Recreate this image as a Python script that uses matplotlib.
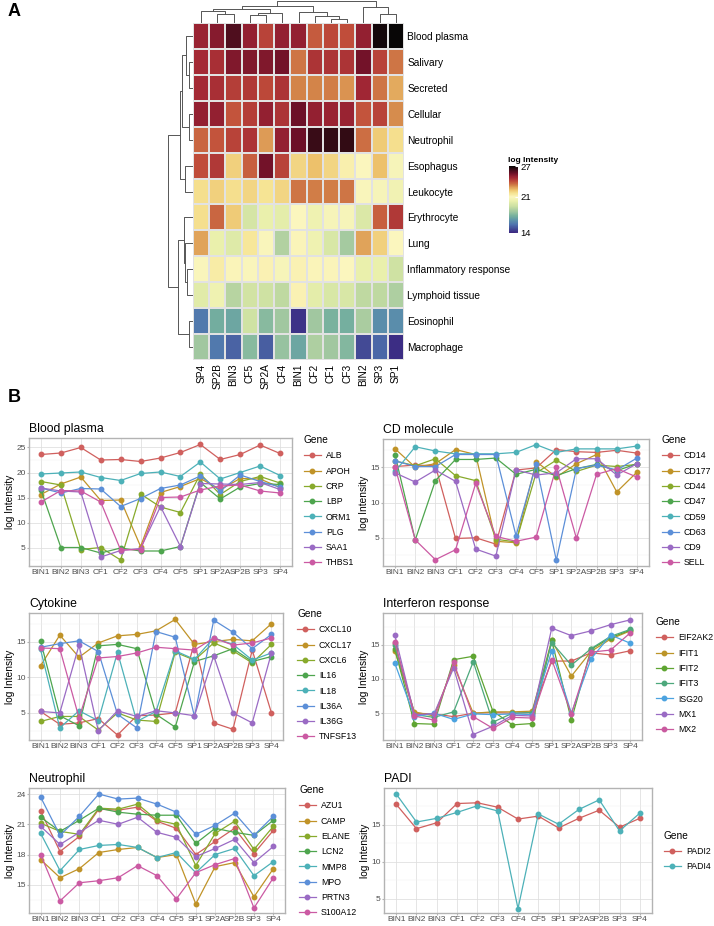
import numpy as np
import matplotlib.pyplot as plt
from matplotlib.colors import LinearSegmentedColormap

plt.rcParams['font.family'] = ['Liberation Sans', 'DejaVu Sans']

W, H = 714, 926

# ------------------------------------------------------------
# A. heatmap data
# ------------------------------------------------------------
hm_cols = ['SP4', 'SP2B', 'BIN3', 'CF5', 'SP2A', 'CF4', 'BIN1', 'CF2', 'CF1', 'CF3', 'BIN2', 'SP3', 'SP1']
hm_rows = ['Blood plasma', 'Salivary', 'Secreted', 'Cellular', 'Neutrophil', 'Esophagus', 'Leukocyte',
           'Erythrocyte', 'Lung', 'Inflammatory response', 'Lymphoid tissue', 'Eosinophil', 'Macrophage']
hm_values = np.array([
    [24.9, 25.2, 26.0, 25.0, 24.2, 25.0, 25.0, 23.8, 24.1, 24.0, 25.0, 26.8, 27.0],
    [24.7, 24.6, 25.3, 25.3, 25.3, 25.5, 23.4, 24.5, 24.5, 24.5, 25.5, 24.2, 23.4],
    [24.7, 24.6, 24.3, 24.4, 24.1, 24.5, 23.2, 23.2, 23.3, 23.0, 24.8, 23.4, 22.7],
    [25.0, 25.0, 23.9, 24.3, 25.0, 24.5, 25.6, 25.0, 24.9, 24.9, 23.9, 24.2, 23.1],
    [23.6, 23.9, 24.2, 24.5, 22.9, 25.0, 25.6, 26.3, 26.4, 26.4, 23.5, 22.2, 21.8],
    [24.0, 24.4, 22.1, 23.7, 25.5, 24.2, 22.0, 22.4, 22.0, 21.3, 21.0, 22.4, 20.8],
    [21.8, 22.1, 21.8, 22.0, 21.7, 22.0, 23.4, 23.3, 23.3, 23.4, 20.9, 20.8, 20.5],
    [21.8, 23.6, 22.2, 19.5, 20.2, 20.0, 21.0, 20.4, 20.8, 20.8, 19.7, 23.7, 24.4],
    [22.8, 20.2, 19.8, 21.6, 20.9, 18.6, 21.1, 20.4, 19.6, 18.3, 22.8, 22.1, 21.0],
    [20.9, 21.4, 21.1, 20.9, 21.2, 20.8, 21.2, 21.1, 21.1, 21.0, 20.2, 20.2, 19.3],
    [19.9, 20.4, 18.7, 19.4, 19.3, 18.9, 21.2, 20.0, 19.6, 19.6, 18.9, 18.9, 18.5],
    [15.8, 17.2, 17.0, 19.3, 17.7, 18.2, 14.3, 18.2, 17.4, 17.3, 18.4, 16.3, 16.3],
    [18.2, 15.8, 15.3, 17.7, 15.2, 18.0, 17.0, 18.5, 18.2, 17.6, 14.8, 15.4, 14.2],
])

# dendrogram merges: (left id, right id, height); ids >= n are earlier merges
col_merges = [(1, 2, 27), (0, 13, 37), (3, 4, 24), (15, 5, 29), (14, 16, 42),
              (8, 9, 12), (7, 18, 22), (6, 19, 34), (17, 20, 53),
              (11, 12, 26), (10, 22, 50), (21, 23, 68)]
row_merges = [(1, 2, 10), (0, 13, 20), (3, 4, 12), (14, 15, 30), (5, 6, 22), (16, 17, 35),
              (9, 10, 18), (8, 19, 23), (7, 20, 25), (11, 12, 12), (21, 22, 42), (18, 23, 70)]

# ------------------------------------------------------------
# B. line panel data
# ------------------------------------------------------------
samples = ['BIN1', 'BIN2', 'BIN3', 'CF1', 'CF2', 'CF3', 'CF4', 'CF5', 'SP1', 'SP2A', 'SP2B', 'SP3', 'SP4']

bp_genes = ['ALB', 'APOH', 'CRP', 'LBP', 'ORM1', 'PLG', 'SAA1', 'THBS1']
bp_values = [
    [23.6, 23.9, 25.0, 22.5, 22.6, 22.2, 22.9, 24.0, 25.6, 22.6, 23.6, 25.5, 23.8],
    [15.6, 17.7, 19.1, 14.4, 14.5, 5.2, 16.0, 17.2, 18.8, 16.6, 18.8, 18.7, 17.0],
    [18.2, 17.5, 4.6, 5.0, 2.5, 15.7, 13.1, 12.0, 19.7, 15.6, 18.2, 19.2, 17.9],
    [16.5, 5.0, 5.0, 3.9, 4.9, 4.3, 4.3, 5.2, 18.0, 14.7, 17.1, 17.8, 17.6],
    [19.7, 19.9, 20.1, 19.0, 18.4, 19.8, 20.1, 19.2, 22.1, 18.7, 20.0, 21.3, 19.4],
    [16.9, 15.9, 16.8, 16.7, 13.2, 14.8, 16.8, 17.5, 19.3, 16.3, 19.5, 18.2, 17.1],
    [16.9, 16.3, 16.1, 3.1, 4.4, 4.8, 13.2, 5.2, 17.8, 17.7, 17.6, 18.0, 16.6],
    [14.1, 16.4, 16.3, 14.1, 4.5, 4.6, 15.0, 15.1, 16.5, 17.3, 17.5, 16.3, 15.9],
]

cd_genes = ['CD14', 'CD177', 'CD44', 'CD47', 'CD59', 'CD63', 'CD9', 'SELL']
cd_values = [
    [15.1, 15.3, 15.2, 4.9, 5.0, 4.1, 14.6, 14.9, 17.5, 17.2, 17.1, 17.4, 17.0],
    [17.6, 15.0, 15.5, 17.5, 16.8, 4.5, 4.3, 15.8, 13.6, 15.5, 16.8, 11.5, 14.3],
    [15.9, 15.2, 16.2, 13.8, 13.1, 4.8, 4.4, 14.2, 16.0, 14.4, 15.3, 15.1, 15.4],
    [16.7, 4.7, 13.1, 16.1, 16.1, 16.3, 14.0, 14.7, 13.8, 14.8, 15.4, 14.5, 15.5],
    [14.4, 17.9, 17.3, 16.9, 16.9, 16.9, 17.1, 18.2, 17.1, 17.6, 17.6, 17.6, 18.0],
    [15.9, 15.1, 15.1, 16.8, 16.8, 16.8, 5.3, 15.4, 1.8, 14.8, 15.3, 14.6, 16.3],
    [14.2, 12.9, 14.6, 13.0, 3.4, 2.4, 14.6, 13.9, 14.2, 16.2, 16.2, 13.9, 15.5],
    [15.0, 4.7, 1.9, 3.3, 12.7, 5.2, 4.5, 5.1, 15.0, 4.9, 14.0, 14.8, 13.6],
]

cyt_genes = ['CXCL10', 'CXCL17', 'CXCL6', 'IL16', 'IL18', 'IL36A', 'IL36G', 'TNFSF13']
cyt_values = [
    [5.2, 3.4, 3.6, 4.2, 1.9, 4.6, 4.7, 5.0, 14.9, 3.6, 2.7, 13.8, 5.0],
    [11.6, 15.9, 12.8, 14.8, 15.8, 16.0, 16.5, 18.1, 14.6, 15.0, 15.3, 15.1, 17.5],
    [3.8, 4.5, 4.5, 2.6, 5.0, 4.0, 3.8, 13.5, 12.4, 14.8, 13.7, 12.0, 14.6],
    [15.1, 4.6, 3.2, 14.4, 14.6, 14.0, 4.8, 3.0, 12.2, 13.0, 14.0, 12.2, 12.9],
    [13.9, 2.9, 5.3, 3.9, 13.5, 3.8, 5.2, 13.7, 12.5, 15.5, 14.6, 12.4, 13.4],
    [14.2, 14.7, 15.1, 13.6, 4.8, 2.9, 16.4, 15.6, 4.5, 18.0, 16.3, 14.0, 16.0],
    [5.2, 5.0, 14.5, 2.5, 5.3, 4.5, 5.3, 5.0, 4.6, 13.0, 5.0, 3.6, 13.4],
    [14.1, 14.0, 4.3, 12.7, 12.9, 13.4, 14.2, 14.0, 13.8, 15.5, 14.5, 14.8, 15.5],
]

ifn_genes = ['EIF2AK2', 'IFIT1', 'IFIT2', 'IFIT3', 'ISG20', 'MX1', 'MX2']
ifn_values = [
    [15.2, 5.0, 4.9, 4.5, 5.0, 5.1, 5.0, 5.1, 12.6, 12.6, 13.8, 13.5, 14.1],
    [14.1, 5.2, 4.6, 12.0, 5.0, 5.2, 5.2, 5.3, 15.6, 10.4, 14.0, 15.8, 17.0],
    [14.4, 3.5, 3.4, 12.8, 13.3, 5.3, 3.3, 3.5, 15.6, 4.0, 14.3, 16.0, 17.1],
    [14.9, 4.8, 4.4, 5.2, 12.5, 3.7, 5.0, 5.1, 15.3, 12.0, 14.4, 16.2, 17.2],
    [12.3, 4.5, 5.0, 4.1, 4.9, 4.8, 4.9, 4.8, 14.1, 5.0, 12.9, 16.4, 15.2],
    [16.4, 4.8, 4.9, 11.6, 1.9, 3.1, 4.7, 4.6, 17.4, 16.3, 17.0, 17.9, 18.6],
    [15.4, 4.6, 4.0, 12.4, 4.5, 2.8, 4.4, 4.3, 12.8, 4.9, 13.9, 14.2, 16.7],
]

neu_genes = ['AZU1', 'CAMP', 'ELANE', 'LCN2', 'MMP8', 'MPO', 'PRTN3', 'S100A12']
neu_values = [
    [22.3, 18.3, 19.8, 22.5, 22.4, 22.7, 21.3, 20.6, 18.0, 19.3, 20.6, 18.1, 20.4],
    [17.5, 15.7, 16.6, 18.2, 18.5, 18.7, 17.7, 18.0, 13.1, 16.8, 17.2, 13.8, 16.6],
    [21.1, 20.3, 20.0, 22.6, 22.5, 23.0, 21.4, 21.0, 16.9, 20.1, 21.3, 18.5, 20.8],
    [21.7, 20.3, 21.4, 22.6, 22.2, 22.0, 21.9, 21.9, 19.1, 20.6, 20.2, 19.9, 21.4],
    [20.1, 16.4, 18.5, 18.9, 19.0, 18.7, 17.7, 18.2, 16.2, 18.0, 18.6, 15.9, 17.3],
    [23.7, 19.9, 21.8, 24.0, 23.5, 23.6, 23.0, 22.2, 20.0, 20.9, 22.1, 19.9, 21.8],
    [20.8, 19.0, 20.2, 21.4, 21.0, 21.7, 20.2, 19.7, 17.8, 18.6, 19.5, 17.2, 18.8],
    [18.0, 13.4, 15.2, 15.4, 15.7, 16.9, 15.9, 13.6, 16.2, 17.0, 17.6, 12.7, 15.7],
]

padi_genes = ['PADI2', 'PADI4']
padi_values = [
    [17.8, 14.5, 15.3, 17.9, 18.0, 17.4, 15.8, 16.2, 14.6, 15.9, 17.0, 14.7, 15.9],
    [19.2, 15.4, 15.9, 16.7, 17.6, 16.9, 3.7, 16.5, 15.1, 17.1, 18.4, 14.2, 16.6],
]

pal8 = ['#D0605E', '#C09328', '#88AA2C', '#4EA54E', '#4DB1B8', '#5C8FD8', '#9A6BC4', '#CB5AA3']
pal7 = ['#D0605E', '#BC9528', '#5FA532', '#4DA87C', '#4CA3E0', '#9A6BC4', '#C95A9F']
pal2 = ['#D0605E', '#4DB1B8']

# heatmap colours (value, colour)
cmap_nodes = [(14.0, '#3A2680'), (14.8, '#434C96'), (15.6, '#4E72AE'), (16.5, '#5E95AA'),
              (17.3, '#76B09E'), (18.2, '#A2C8A0'), (19.2, '#CCE0A2'), (20.2, '#EAF0AC'),
              (21.0, '#FBF6BE'), (21.7, '#F6E494'), (22.4, '#EDC26C'), (23.2, '#D4864A'),
              (24.0, '#C04C3A'), (24.8, '#A02634'), (25.6, '#6E1028'), (26.3, '#3C0C18'),
              (27.0, '#080606')]
cmap = LinearSegmentedColormap.from_list(
    'logint', [((v - 14) / 13, c) for v, c in cmap_nodes])


def px_axes(fig, x0, y0, x1, y1):
    return fig.add_axes([x0 / W, 1 - y1 / H, (x1 - x0) / W, (y1 - y0) / H])


def dendro_segments(merges, n):
    pos = {i: i + 0.5 for i in range(n)}
    hgt = {i: 0.0 for i in range(n)}
    segs = []
    for k, (a, b, h) in enumerate(merges):
        segs.append(([pos[a], pos[a], pos[b], pos[b]], [hgt[a], h, h, hgt[b]]))
        pos[n + k] = (pos[a] + pos[b]) / 2
        hgt[n + k] = h
    return segs


fig = plt.figure(figsize=(W / 100, H / 100), dpi=100)

# ---------------- heatmap ----------------
ax_hm = px_axes(fig, 193, 23, 404, 360)
mesh = ax_hm.pcolormesh(np.arange(14), np.arange(14), hm_values, cmap=cmap, vmin=14, vmax=27,
                        edgecolors='#E2E2E2', linewidth=0.3)
ax_hm.set_xlim(0, 13)
ax_hm.set_ylim(13, 0)
ax_hm.yaxis.tick_right()
ax_hm.set_yticks(np.arange(13) + 0.5)
ax_hm.set_yticklabels(hm_rows, fontsize=7.3)
ax_hm.set_xticks(np.arange(13) + 0.5)
ax_hm.set_xticklabels(hm_cols, fontsize=7.3, rotation=90)
ax_hm.tick_params(length=0, pad=2.5)
for s in ax_hm.spines.values():
    s.set_visible(False)

ax_cd = px_axes(fig, 193, 0, 404, 23)
for xs, ys in dendro_segments(col_merges, 13):
    ax_cd.plot(xs, ys, color='#555555', lw=0.7)
ax_cd.set_xlim(0, 13)
ax_cd.set_ylim(0, 70)
ax_cd.axis('off')

ax_rd = px_axes(fig, 167, 23, 193, 360)
for xs, ys in dendro_segments(row_merges, 13):
    ax_rd.plot(ys, xs, color='#555555', lw=0.7)
ax_rd.set_ylim(13, 0)
ax_rd.set_xlim(72, 0)
ax_rd.axis('off')

cax = px_axes(fig, 509, 166, 518, 233)
cb = fig.colorbar(mesh, cax=cax, ticks=[14, 21, 27])
cb.outline.set_visible(False)
cax.tick_params(labelsize=6.8, length=2, color='white', direction='in', pad=1.5)
fig.text(508 / W, 1 - 160 / H, 'log Intensity', fontsize=6, weight='bold', va='center', ha='left')

fig.text(8 / W, 1 - 11 / H, 'A', fontsize=13, weight='bold', va='center', ha='left')
fig.text(8 / W, 1 - 398 / H, 'B', fontsize=13, weight='bold', va='center', ha='left')

# ---------------- line panels ----------------
panels = [
    ('Blood plasma', bp_genes, bp_values, pal8, (29, 438, 292, 566), (1.3, 26.9), [5, 10, 15, 20, 25], (304, 435), 'upper left'),
    ('CD molecule', cd_genes, cd_values, pal8, (383, 439, 649, 566), (1.0, 19.0), [5, 10, 15], (662, 435), 'upper left'),
    ('Cytokine', cyt_genes, cyt_values, pal8, (29, 613, 283, 740), (1.2, 19.0), [5, 10, 15], (297, 609), 'upper left'),
    ('Interferon response', ifn_genes, ifn_values, pal7, (383, 613, 642, 740), (1.1, 19.6), [5, 10, 15], (656, 617), 'upper left'),
    ('Neutrophil', neu_genes, neu_values, pal8, (29, 788, 285, 913), (12.2, 24.6), [15, 18, 21, 24], (299, 785), 'upper left'),
    ('PADI', padi_genes, padi_values, pal2, (384, 788, 652, 913), (3.1, 20.0), [5, 10, 15], (664, 851), 'center left'),
]

x = np.arange(1, 14)
for title, genes, values, colors, box, ylim, yt, leg_xy, leg_loc in panels:
    ax = px_axes(fig, *box)
    for g, v, c in zip(genes, values, colors):
        ax.plot(x, v, color=c, lw=0.9, marker='o', ms=3.2, label=g)
    ax.set_xlim(0.4, 13.6)
    ax.set_ylim(*ylim)
    ax.set_xticks(x)
    ax.set_xticklabels(samples)
    ax.set_yticks(yt)
    step = yt[1] - yt[0]
    minors = [m for m in np.arange(yt[0] - step / 2, yt[-1] + step, step) if ylim[0] < m < ylim[1]]
    ax.set_yticks(minors, minor=True)
    ax.grid(which='major', color='#DEDEDE', lw=0.55)
    ax.grid(which='minor', axis='y', color='#EFEFEF', lw=0.35)
    ax.set_axisbelow(True)
    for s in ax.spines.values():
        s.set_color('#B3B3B3')
        s.set_linewidth(1.0)
    ax.tick_params(which='major', length=1.5, color='#B3B3B3', labelsize=6.0, labelcolor='#4D4D4D', pad=1.0)
    ax.tick_params(which='minor', length=0)
    ax.set_ylabel('log Intensity', fontsize=7.3, labelpad=0.5)
    ax.set_title(title, loc='left', fontsize=8.8, pad=4)
    ax.legend(title='Gene', loc=leg_loc, bbox_to_anchor=(leg_xy[0] / W, 1 - leg_xy[1] / H),
              bbox_transform=fig.transFigure, frameon=False, fontsize=6.3, title_fontsize=7.3,
              handlelength=1.9, handletextpad=0.6, labelspacing=0.72, borderaxespad=0,
              borderpad=0, alignment='left')

fig.savefig('out.png', dpi=100)
